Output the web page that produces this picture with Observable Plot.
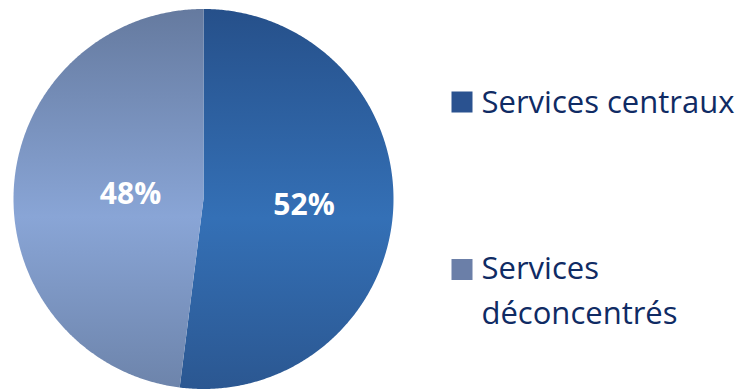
<!DOCTYPE html>
<html><head><meta charset="utf-8">
<script src="https://cdn.jsdelivr.net/npm/d3@7"></script>
<script src="https://cdn.jsdelivr.net/npm/@observablehq/plot@0.6"></script>
<style>body{margin:0;background:#fff}</style>
</head><body><div id="chart"></div>
<script>
const categories = ["Services centraux", "Services déconcentrés"];
const values = [52, 48];
const labels = ["52%", "48%"];
const swatchColors = ["#2a5290", "#6b7fa8"];
const gradients = [
  ["#26508a", "#3470b6", "#2b5791"],
  ["#657a9f", "#89a5d6", "#6d84ab"]
];

const arcs = d3.pie().sort(null).value(d => d)(values);
const slices = arcs.map((a, i) => {
  const pts = [{x: 0, y: 0}];
  const n = Math.max(2, Math.ceil((a.endAngle - a.startAngle) / (Math.PI / 360)));
  for (let k = 0; k <= n; ++k) {
    const t = a.startAngle + (a.endAngle - a.startAngle) * k / n;
    pts.push({x: Math.sin(t), y: Math.cos(t)});
  }
  return pts;
});
const labelRadius = [0.53, 0.385];
const labelData = arcs.map((a, i) => {
  const m = (a.startAngle + a.endAngle) / 2;
  return {x: labelRadius[i] * Math.sin(m), y: labelRadius[i] * Math.cos(m), label: labels[i]};
});

const defsMark = () => {
  const defs = d3.create("svg:defs");
  gradients.forEach((g, i) => {
    const lg = defs.append("linearGradient").attr("id", "g" + i).attr("x1", 0).attr("y1", 0).attr("x2", 0).attr("y2", 1);
    lg.append("stop").attr("offset", "0%").attr("stop-color", g[0]);
    lg.append("stop").attr("offset", "55%").attr("stop-color", g[1]);
    lg.append("stop").attr("offset", "100%").attr("stop-color", g[2]);
  });
  const f = defs.append("filter").attr("id", "sh").attr("x", "-10%").attr("y", "-10%").attr("width", "120%").attr("height", "120%");
  f.append("feDropShadow").attr("dx", 2).attr("dy", 3).attr("stdDeviation", 3).attr("flood-color", "#000").attr("flood-opacity", 0.3);
  return defs.node();
};

const marks = [defsMark];
slices.forEach((pts, i) => {
  marks.push(Plot.line(pts, {x: "x", y: "y", curve: "linear-closed", fill: `url(#g${i})`, stroke: "none", style: i === 0 ? "filter:url(#sh)" : null}));
});
marks.push(Plot.text(labelData, {x: "x", y: "y", text: "label", fill: "white", fontSize: 30, fontWeight: "bold", fontFamily: "Open Sans"}));

const legendItems = categories.map((c, i) => ({label: c, color: swatchColors[i]}));
const legendTops = [101.5, 269];
const legendBaselines = [112.7, 323];
legendItems.forEach((d, i) => {
  marks.push(Plot.dot([d], {frameAnchor: "top-left", dx: 461.5, dy: legendTops[i], symbol: "square", r: 11.85, fill: d.color, stroke: "none"}));
  marks.push(Plot.text([d], {frameAnchor: "top-left", dx: 481, dy: legendBaselines[i], text: "label", textAnchor: "start", lineAnchor: "bottom", fontSize: 31, fontFamily: "Open Sans", fill: "#0f2b64", lineWidth: 9, lineHeight: 1.42}));
});

const chart = Plot.plot({
  width: 741, height: 390, margin: 0,
  x: {domain: [-1, 1], range: [13, 393], axis: null},
  y: {domain: [-1, 1], range: [388.5, 8.5], axis: null},
  marks
});
document.getElementById("chart").appendChild(chart);
</script></body></html>
